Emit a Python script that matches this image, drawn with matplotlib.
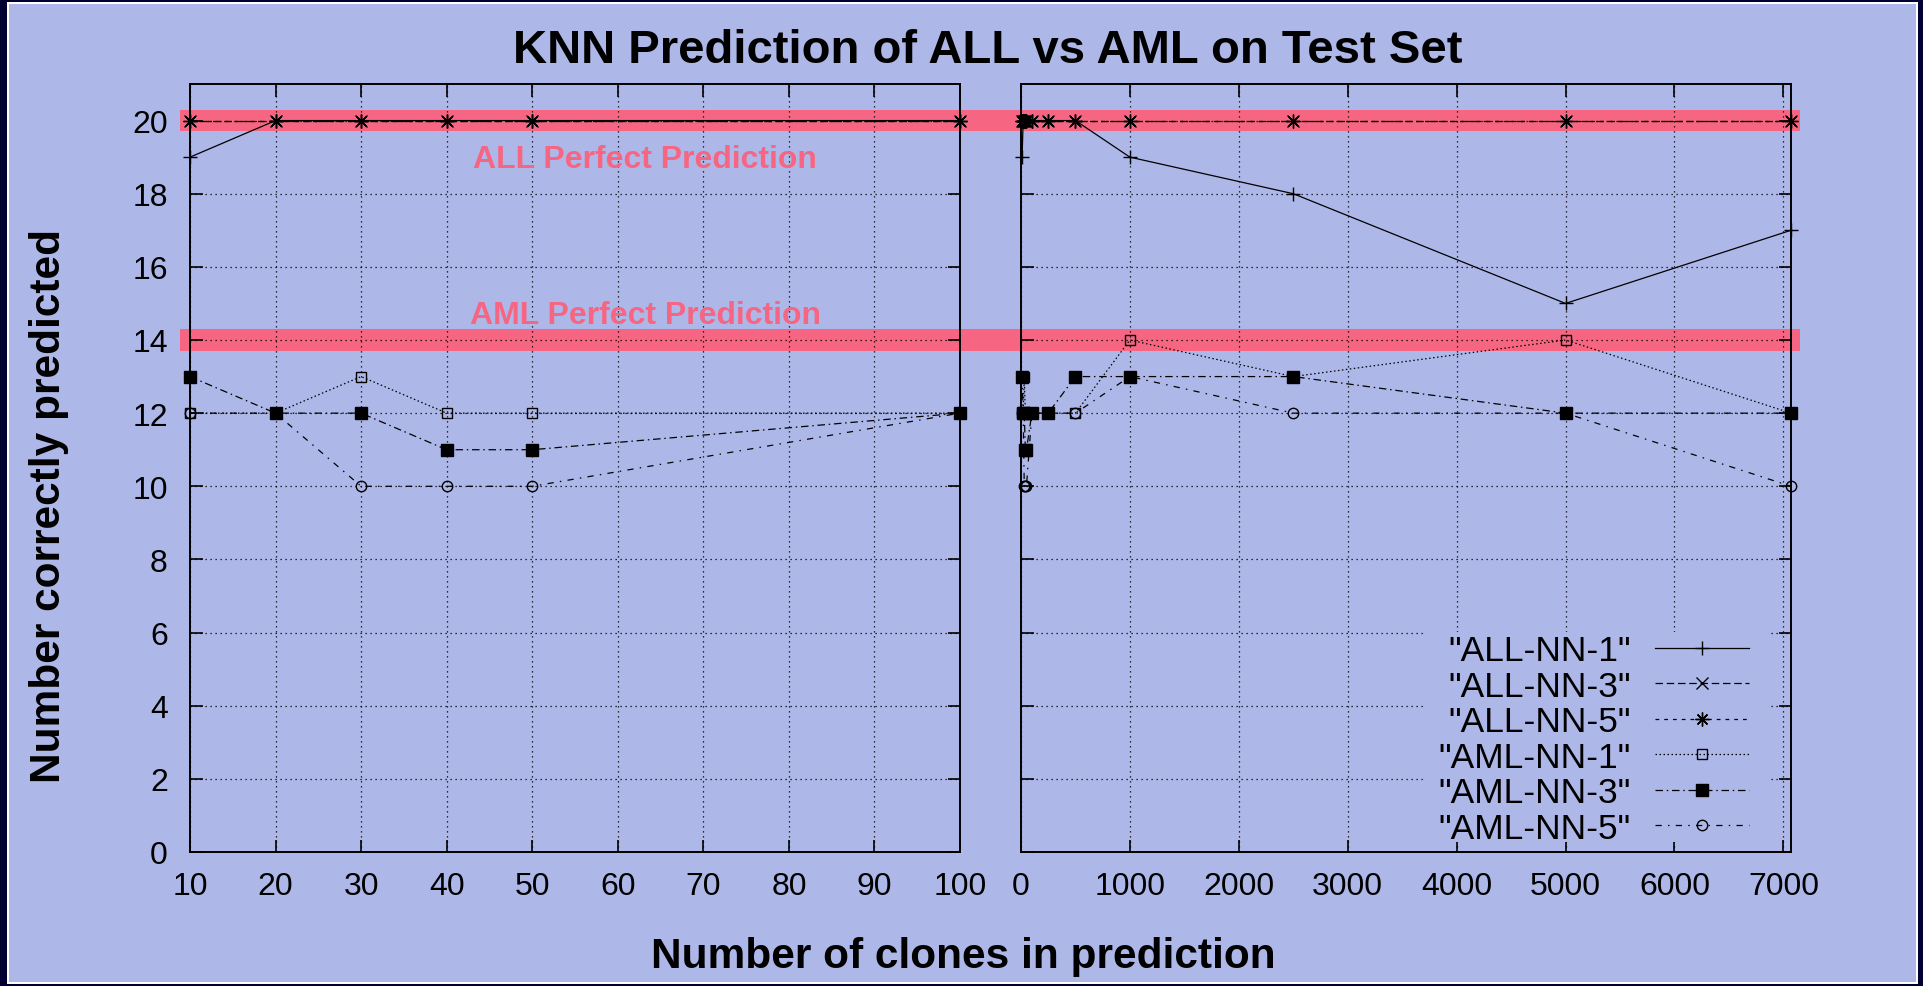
import numpy as np
import matplotlib.pyplot as plt
from matplotlib.patches import Rectangle
from matplotlib.transforms import blended_transform_factory

plt.rcParams['font.family'] = ['Liberation Sans', 'DejaVu Sans']

# number of clones used in prediction and number correctly predicted
clones = [10, 20, 30, 40, 50, 100, 250, 500, 1000, 2500, 5000, 7070]
all_nn1 = [19, 20, 20, 20, 20, 20, 20, 20, 19, 18, 15, 17]
all_nn3 = [20, 20, 20, 20, 20, 20, 20, 20, 20, 20, 20, 20]
all_nn5 = [20, 20, 20, 20, 20, 20, 20, 20, 20, 20, 20, 20]
aml_nn1 = [12, 12, 13, 12, 12, 12, 12, 12, 14, 13, 14, 12]
aml_nn3 = [13, 12, 12, 11, 11, 12, 12, 13, 13, 13, 12, 12]
aml_nn5 = [12, 12, 10, 10, 10, 12, 12, 12, 13, 12, 12, 10]
n_left = 6  # points with <= 100 clones go in the left panel

all_perfect = 20
aml_perfect = 14

bg = '#aeb8e8'
pink = '#f66682'

series = [
    ('"ALL-NN-1"', all_nn1, dict(ls='-', marker='+', ms=10, mfc='none')),
    ('"ALL-NN-3"', all_nn3, dict(ls=(0, (6, 3)), marker='x', ms=8, mfc='none')),
    ('"ALL-NN-5"', all_nn5, dict(ls=(0, (3, 4)), marker=(8, 2, 0), ms=10, mfc='none')),
    ('"AML-NN-1"', aml_nn1, dict(ls=(0, (1.2, 2)), marker='s', ms=7.5, mfc='none')),
    ('"AML-NN-3"', aml_nn3, dict(ls=(0, (6, 3, 1.2, 3)), marker='s', ms=8.5, mfc='black')),
    ('"AML-NN-5"', aml_nn5, dict(ls=(0, (5, 5, 1.2, 5)), marker='o', ms=7.5, mfc='none')),
]

W, H = 1923, 987
fig = plt.figure(figsize=(W / 100, H / 100), dpi=100, facecolor='#000033')

# frame: dark border, thin white line, lavender fill
fig.add_artist(Rectangle((7 / W, 2 / H), (W - 12) / W, (H - 5) / H,
                         transform=fig.transFigure, facecolor='white', edgecolor='none', zorder=-3))
fig.add_artist(Rectangle((9 / W, 4 / H), (W - 16) / W, (H - 9) / H,
                         transform=fig.transFigure, facecolor=bg, edgecolor='none', zorder=-2))

ax1 = fig.add_axes([190 / W, 1 - 853 / H, 770 / W, 768 / H])
ax2 = fig.add_axes([1021 / W, 1 - 853 / H, 770 / W, 768 / H])

for ax in (ax1, ax2):
    ax.set_facecolor('none')
    ax.set_ylim(0, 21)
    ax.set_yticks(np.arange(0, 21, 2))
    ax.grid(True, color='black', ls=(0, (1, 3)), lw=0.9)
    ax.tick_params(direction='in', length=9, width=1.2, top=True, right=True,
                   labelsize=23, pad=14)
    for s in ax.spines.values():
        s.set_linewidth(1.4)

ax1.set_xlim(10, 100)
ax1.set_xticks(np.arange(10, 101, 10))
ax1.tick_params(axis='y', pad=16)
ax2.set_xlim(0, 7070)
ax2.set_xticks(np.arange(0, 7001, 1000))
ax2.tick_params(axis='y', labelleft=False)

for label, vals, st in series:
    ax1.plot(clones[:n_left], vals[:n_left], color='black', lw=0.9, mec='black',
             mew=1.0, clip_on=False, label=label, **st)
    ax2.plot(clones, vals, color='black', lw=0.9, mec='black', mew=1.0,
             clip_on=False, label=label, **st)

# perfect prediction bands across both panels
tr = blended_transform_factory(fig.transFigure, ax1.transData)
for yv in (all_perfect, aml_perfect):
    fig.add_artist(Rectangle((180 / W, yv - 0.29), 1620 / W, 0.58, transform=tr,
                             facecolor=pink, edgecolor='none', zorder=-1))

ax1.text(63.2, 18.95, 'ALL Perfect Prediction', color=pink, fontsize=23,
         fontweight='bold', ha='center', va='center')
ax1.text(63.2, 14.68, 'AML Perfect Prediction', color=pink, fontsize=23,
         fontweight='bold', ha='center', va='center')

# key area blanks out the grid behind it, as in the original
ax2.add_patch(Rectangle((0.522, 0.013), 0.4507, 0.2735, transform=ax2.transAxes,
                        facecolor=bg, edgecolor='none', zorder=1.7))
leg = ax2.legend(loc='lower right', bbox_to_anchor=(0.973, -0.018), markerfirst=False,
                 fontsize=25.5, handlelength=2.65, handletextpad=0.68, labelspacing=0.07,
                 borderpad=0.1, frameon=False)

fig.text(988 / W, 1 - 63 / H, 'KNN Prediction of ALL vs AML on Test Set',
         fontsize=34, fontweight='bold', ha='center', va='baseline')
fig.text(963 / W, 1 - 968 / H, 'Number of clones in prediction',
         fontsize=30.5, fontweight='bold', ha='center', va='baseline')
fig.text(49 / W, 1 - 506 / H, 'Number correctly predicted', rotation=90,
         fontsize=30.5, fontweight='bold', ha='center', va='center')

plt.savefig('out.png', dpi=100, facecolor=fig.get_facecolor())
